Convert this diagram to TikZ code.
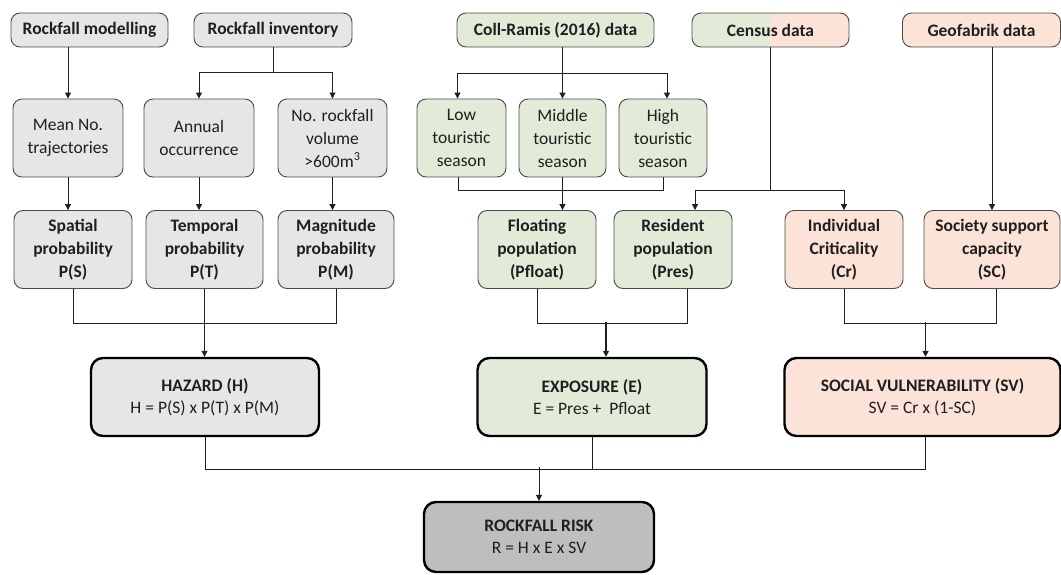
\documentclass[tikz,border=0pt]{standalone}
\usepackage{fontspec}
\setmainfont{Carlito}
\usetikzlibrary{arrows.meta}
\definecolor{greyfill}{HTML}{E6E6E6}
\definecolor{greenfill}{HTML}{E2EBD7}
\definecolor{redfill}{HTML}{FCE3D7}
\definecolor{riskfill}{HTML}{BEBEBE}
\definecolor{edge}{HTML}{4A4A4A}
\definecolor{ink}{HTML}{1F1F1F}

\tikzset{
  box/.style={draw=edge, line width=0.9pt, rounded corners=9pt, align=center,
    inner sep=3pt, text=ink, font=\fontsize{17.5}{23}\selectfont},
  srcbox/.style={box, minimum height=34pt, font=\fontsize{17.5}{23}\selectfont\bfseries},
  inbox/.style={box, minimum height=78pt},
  probbox/.style={box, minimum height=78pt, font=\fontsize{17.5}{23}\selectfont\bfseries},
  resbox/.style={box, draw=black, line width=2.4pt, rounded corners=12pt, minimum height=78pt,
    font=\fontsize{17.5}{22}\selectfont},
  conn/.style={draw=ink, line width=1pt},
  flow/.style={conn, -{Triangle[length=6pt,width=6pt]}},
  bigflow/.style={flow, line width=1.8pt}
}

\begin{document}
\begin{tikzpicture}[x=1pt, y=-1pt]
  \useasboundingbox (0,0) rectangle (1061,574);
  \def\ya{30}\def\yb{138}\def\yc{249.5}\def\yd{397}

  % data sources
  \node[srcbox, fill=greyfill, minimum width=157pt] (mod) at (89.5,\ya) {Rockfall modelling};
  \node[srcbox, fill=greyfill, minimum width=158pt] (inv) at (273,\ya) {Rockfall inventory};
  \node[srcbox, fill=greenfill, minimum width=197pt] (coll) at (555.5,\ya) {Coll-Ramis (2016) data};
  \node[srcbox, fill=greenfill, minimum width=157pt,
    path picture={
      \fill[redfill] ([xshift=-0.5pt]path picture bounding box.north) rectangle ([xshift=2pt,yshift=-2pt]path picture bounding box.south east);
    }] (cen) at (770.5,\ya) {Census data};
  \node[srcbox, fill=redfill, minimum width=158pt] (geo) at (981.5,\ya) {Geofabrik data};

  % intermediate inputs
  \node[inbox, fill=greyfill, minimum width=110pt] (mean) at (68,\yb) {Mean No.\\trajectories};
  \node[inbox, fill=greyfill, minimum width=110pt] (ann) at (199,\yb) {Annual\\occurrence};
  \node[inbox, fill=greyfill, minimum width=109pt] (vol) at (332.5,\yb) {No. rockfall\\volume\\>600m\textsuperscript{3}};
  \node[inbox, fill=greenfill, minimum width=89pt] (low) at (461.5,\yb) {Low\\touristic\\season};
  \node[inbox, fill=greenfill, minimum width=87pt] (mid) at (562.5,\yb) {Middle\\touristic\\season};
  \node[inbox, fill=greenfill, minimum width=88pt] (high) at (663,\yb) {High\\touristic\\season};

  % components
  \node[probbox, fill=greyfill, minimum width=118pt] (spa) at (73,\yc) {Spatial\\probability\\P(S)};
  \node[probbox, fill=greyfill, minimum width=117pt] (tem) at (204.5,\yc) {Temporal\\probability\\P(T)};
  \node[probbox, fill=greyfill, minimum width=116pt] (mag) at (336,\yc) {Magnitude\\probability\\P(M)};
  \node[probbox, fill=greenfill, minimum width=118pt] (flo) at (537,\yc) {Floating\\population\\(Pfloat)};
  \node[probbox, fill=greenfill, minimum width=118pt] (res) at (673,\yc) {Resident\\population\\(Pres)};
  \node[probbox, fill=redfill, minimum width=118pt] (ind) at (844,\yc) {Individual\\Criticality\\(Cr)};
  \node[probbox, fill=redfill, minimum width=136pt] (soc) at (992,\yc) {Society support\\capacity\\(SC)};

  % results
  \node[resbox, fill=greyfill, minimum width=228pt] (haz) at (205,\yd) {\textbf{HAZARD (H)}\\H = P(S) x P(T) x P(M)};
  \node[resbox, fill=greenfill, minimum width=229pt] (exp) at (592,\yd) {\textbf{EXPOSURE (E)}\\E = Pres +\ \ Pfloat};
  \node[resbox, fill=redfill, minimum width=276pt] (sv) at (922.5,\yd) {\textbf{SOCIAL VULNERABILITY (SV)}\\SV = Cr x (1-SC)};
  \node[resbox, fill=riskfill, minimum width=230pt, minimum height=70pt] (risk) at (539,537) {\textbf{ROCKFALL RISK}\\R = H x E x SV};

  % sources to inputs
  \draw[flow] (mod.south -| mean.north) -- (mean.north);
  \draw[flow] (inv.south) -- ++(0,25.5) -| (ann.north);
  \draw[flow] (inv.south) -- ++(0,25.5) -| (vol.north);
  \draw[flow] (coll.south -| mid.north) -- (mid.north);
  \draw[flow] (coll.south -| mid.north) -- ++(0,26) -| ([xshift=-4pt]low.north);
  \draw[flow] (coll.south -| mid.north) -- ++(0,26) -| ([xshift=4pt]high.north);

  % inputs to components
  \draw[flow] (mean.south) -- (mean.south |- spa.north);
  \draw[flow] (ann.south) -- (ann.south |- tem.north);
  \draw[flow] (vol.south) -- (vol.south |- mag.north);
  \draw[conn] ([xshift=-3pt]low.south) -- ++(0,13) -| (high.south);
  \draw[flow] (mid.south) -- (mid.south |- flo.north);
  \draw[flow] (cen.south) -- ++(0,143) -| ([xshift=22pt]res.north);
  \draw[flow] (cen.south) -- ++(0,143) -| (ind.north);
  \draw[flow] (geo.south -| soc.north) -- (soc.north);

  % components to results
  \draw[conn] (spa.south) -- ++(0,35) -| (mag.south);
  \draw[flow] (tem.south) -- (tem.south |- haz.north);
  \draw[conn] (flo.south) -- ++(0,35) -| ([xshift=14pt]res.south);
  \draw[bigflow] ([xshift=14pt]exp.north) ++(0,-35) -- ([xshift=14pt]exp.north);
  \draw[conn] (ind.south) -- ++(0,35) -| ([xshift=4pt]soc.south);
  \draw[bigflow] ([xshift=3pt]sv.north) ++(0,-35) -- ([xshift=3pt]sv.north);

  % results to risk
  \draw[conn] (haz.south) -- ++(0,32) -| ([xshift=3pt]sv.south);
  \draw[conn] (exp.south) -- ++(0,32);
  \draw[flow] (risk.north) ++(0,-34) -- (risk.north);
\end{tikzpicture}
\end{document}
